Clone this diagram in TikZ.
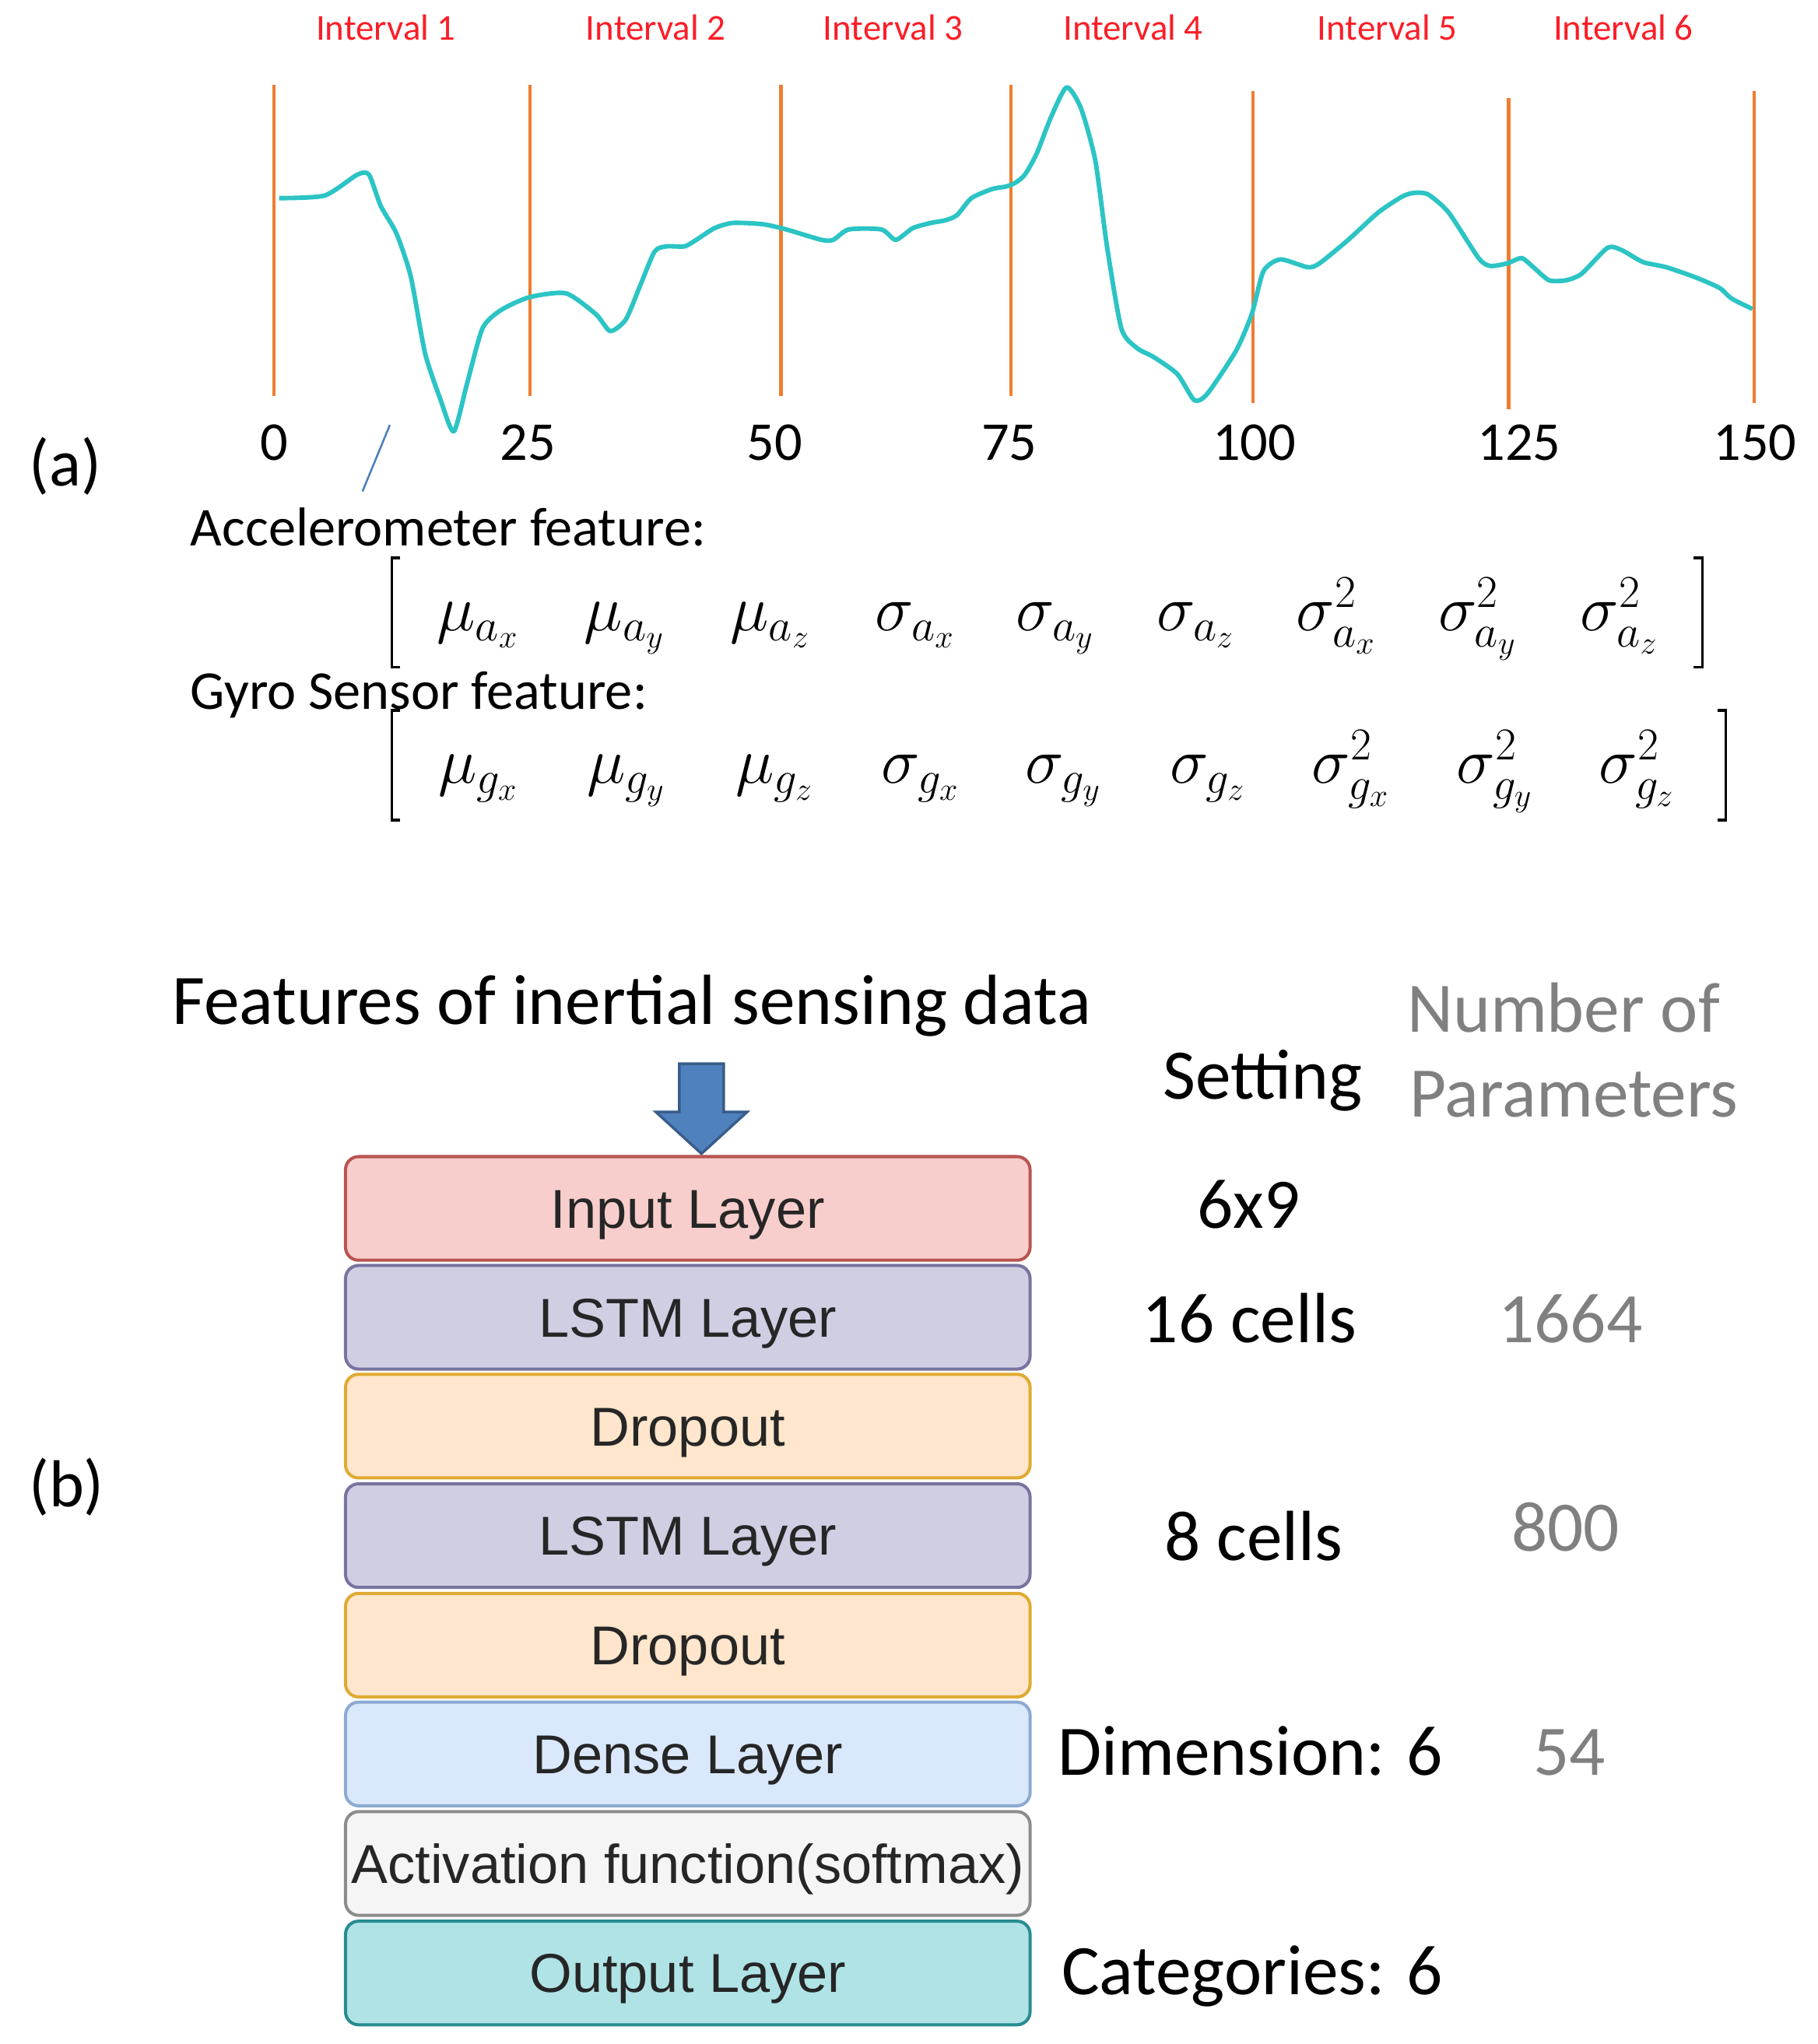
\documentclass[tikz,border=0pt]{standalone}
\usepackage{fix-cm}
\usepackage{fontspec}
\setmainfont{Carlito}
\newfontfamily\arialfont{Liberation Sans}
\newcommand{\intsize}{\fontsize{28}{32}\selectfont}
\newcommand{\labsize}{\fontsize{42}{48}\selectfont}
\newcommand{\partsize}{\fontsize{51}{56}\selectfont}
\newcommand{\bigsize}{\fontsize{54.5}{60}\selectfont}
\newcommand{\entrysize}{\fontsize{50}{56}\selectfont}
\newcommand{\layersize}{\arialfont\fontsize{42}{48}\selectfont}
\definecolor{intred}{RGB}{250, 30, 40}
\definecolor{boundorange}{RGB}{237, 125, 49}
\definecolor{signalcyan}{RGB}{44, 196, 196}
\definecolor{slashblue}{RGB}{74, 126, 187}
\definecolor{paramgray}{RGB}{128, 128, 128}
\definecolor{arrowfill}{RGB}{79, 129, 189}
\definecolor{arrowdraw}{RGB}{56, 93, 138}
\begin{document}
\begin{tikzpicture}[x = 1pt, y = -1pt,
    intlabel/.style = {anchor = base, inner sep = 0, text = intred, font = \intsize},
    ticklabel/.style = {anchor = base, inner sep = 0, font = \labsize},
    txt/.style = {anchor = base west, inner sep = 0, font = \labsize},
    bigtxt/.style = {anchor = base west, inner sep = 0, font = \bigsize},
    paramtxt/.style = {anchor = base west, inner sep = 0, font = \bigsize, text = paramgray},
    mathentry/.style = {anchor = base west, inner sep = 0, font = \entrysize},
    bound/.style = {boundorange, line width = 2.5pt},
    bracket/.style = {line width = 2pt},
    layerbox/.style = {rounded corners = 10pt, line width = 2.4pt, minimum width = 525pt,
        minimum height = 79.5pt, inner sep = 0, text height = 30pt, text depth = 0pt,
        font = \layersize, text = black!85}]
    \useasboundingbox (0, 0) rectangle (1394, 1568);
    \node [intlabel] (int1) at (296, 31) {Interval 1};
    \node [intlabel] (int2) at (503, 31) {Interval 2};
    \node [intlabel] (int3) at (685, 31) {Interval 3};
    \node [intlabel] (int4) at (869, 31) {Interval 4};
    \node [intlabel] (int5) at (1064, 31) {Interval 5};
    \node [intlabel] (int6) at (1245, 31) {Interval 6};
    \draw [bound] (210, 65) -- (210, 304);
    \draw [bound] (406.5, 65) -- (406.5, 304);
    \draw [bound] (599, 65) -- (599, 304);
    \draw [bound] (775.5, 65) -- (775.5, 304);
    \draw [bound] (961, 70) -- (961, 309);
    \draw [bound] (1157, 75) -- (1157, 314);
    \draw [bound] (1345.5, 70) -- (1345.5, 309);
    \draw [signalcyan, line width = 3.5pt, line join = round] plot [smooth, tension = 0.4] coordinates {
        (214, 152) (249, 150) (274, 134) (283, 134) (292, 158) (304, 179) (315, 212)
        (326, 271) (338, 307) (348, 331) (358, 295) (370, 252) (384, 238) (406, 228)
        (434, 225) (457, 241) (468, 254) (480, 245) (491, 219) (502, 193) (511, 189)
        (525, 189) (534, 184) (548, 175) (562, 171) (585, 172) (603, 176) (630, 184)
        (639, 184) (651, 176) (676, 176) (687, 184) (700, 175) (714, 171) (725, 169)
        (734, 165) (745, 152) (761, 145) (772, 143) (779, 140) (786, 134) (795, 118)
        (806, 90) (818, 67) (829, 83) (840, 123) (849, 189) (860, 252) (872, 267)
        (885, 274) (903, 287) (916, 307) (926, 302) (948, 269) (960, 241) (969, 208)
        (982, 199) (1003, 205) (1012, 202) (1034, 184) (1057, 163) (1075, 151)
        (1084, 148) (1095, 149) (1111, 163) (1134, 198) (1143, 204) (1156, 202)
        (1167, 198) (1176, 205) (1188, 215) (1201, 215) (1213, 210) (1233, 190)
        (1244, 192) (1260, 201) (1278, 205) (1301, 213) (1319, 221) (1328, 229) (1344, 237)};
    \node [ticklabel] (t0) at (210, 353) {0};
    \node [ticklabel] (t25) at (405, 353) {25};
    \node [ticklabel] (t50) at (594, 353) {50};
    \node [ticklabel] (t75) at (774, 353) {75};
    \node [ticklabel] (t100) at (962, 353) {100};
    \node [ticklabel] (t125) at (1165, 353) {125};
    \node [ticklabel] (t150) at (1346, 353) {150};
    \draw [slashblue, line width = 1.5pt] (299, 326) -- (278, 377);
    \node [anchor = base west, inner sep = 0, font = \partsize] (lbla) at (22, 373) {(a)};
    \node [txt] (accfeat) at (146, 419) {Accelerometer feature:};
    \node [txt] (gyrofeat) at (146, 544) {Gyro Sensor feature:};
    \draw [bracket] (307, 428) -- (300.5, 428) -- (300.5, 512) -- (307, 512);
    \draw [bracket] (1299, 428) -- (1305.5, 428) -- (1305.5, 512) -- (1299, 512);
    \draw [bracket] (307, 545) -- (300.5, 545) -- (300.5, 629) -- (307, 629);
    \draw [bracket] (1317, 545) -- (1323.5, 545) -- (1323.5, 629) -- (1317, 629);
    \node [mathentry] (a1) at (335, 484) {$\mu_{a_x}$};
    \node [mathentry] (a2) at (448, 484) {$\mu_{a_y}$};
    \node [mathentry] (a3) at (560, 484) {$\mu_{a_z}$};
    \node [mathentry] (a4) at (671, 484) {$\sigma_{a_x}$};
    \node [mathentry] (a5) at (779, 484) {$\sigma_{a_y}$};
    \node [mathentry] (a6) at (887, 484) {$\sigma_{a_z}$};
    \node [mathentry] (a7) at (994, 484) {$\sigma^2_{a_x}$};
    \node [mathentry] (a8) at (1103, 484) {$\sigma^2_{a_y}$};
    \node [mathentry] (a9) at (1212, 484) {$\sigma^2_{a_z}$};
    \node [mathentry] (g1) at (336, 601) {$\mu_{g_x}$};
    \node [mathentry] (g2) at (450, 601) {$\mu_{g_y}$};
    \node [mathentry] (g3) at (564, 601) {$\mu_{g_z}$};
    \node [mathentry] (g4) at (676, 601) {$\sigma_{g_x}$};
    \node [mathentry] (g5) at (786, 601) {$\sigma_{g_y}$};
    \node [mathentry] (g6) at (897, 601) {$\sigma_{g_z}$};
    \node [mathentry] (g7) at (1006, 601) {$\sigma^2_{g_x}$};
    \node [mathentry] (g8) at (1117, 601) {$\sigma^2_{g_y}$};
    \node [mathentry] (g9) at (1226, 601) {$\sigma^2_{g_z}$};
    \node [bigtxt] (title) at (132, 786) {Features of inertial sensing data};
    \node [bigtxt] (setting) at (892, 843) {Setting};
    \node [paramtxt] (numof) at (1079, 792) {Number of};
    \node [paramtxt] (params) at (1081, 857) {Parameters};
    \draw [fill = arrowfill, draw = arrowdraw, line width = 2pt, line join = miter]
        (521, 816) -- (555, 816) -- (555, 853) -- (573, 853) -- (538, 885)
        -- (503, 853) -- (521, 853) -- cycle;
    \node [layerbox, fill = {rgb,255:red,248;green,206;blue,204}, draw = {rgb,255:red,184;green,84;blue,80}] (input) at (527.5, 927) {Input Layer};
    \node [layerbox, fill = {rgb,255:red,208;green,206;blue,226}, draw = {rgb,255:red,120;green,115;blue,160}] (lstma) at (527.5, 1010.5) {LSTM Layer};
    \node [layerbox, fill = {rgb,255:red,255;green,230;blue,204}, draw = {rgb,255:red,224;green,170;blue,50}] (dropa) at (527.5, 1094) {Dropout};
    \node [layerbox, fill = {rgb,255:red,208;green,206;blue,226}, draw = {rgb,255:red,120;green,115;blue,160}] (lstmb) at (527.5, 1178) {LSTM Layer};
    \node [layerbox, fill = {rgb,255:red,255;green,230;blue,204}, draw = {rgb,255:red,224;green,170;blue,50}] (dropb) at (527.5, 1262) {Dropout};
    \node [layerbox, fill = {rgb,255:red,218;green,232;blue,252}, draw = {rgb,255:red,140;green,170;blue,210}] (dense) at (527.5, 1345.5) {Dense Layer};
    \node [layerbox, fill = {rgb,255:red,245;green,245;blue,245}, draw = {rgb,255:red,140;green,140;blue,140}] (act) at (527.5, 1429.5) {Activation function(softmax)};
    \node [layerbox, fill = {rgb,255:red,176;green,227;blue,230}, draw = {rgb,255:red,40;green,140;blue,145}] (output) at (527.5, 1513.5) {Output Layer};
    \node [bigtxt] (setin) at (918, 942) {6x9};
    \node [bigtxt] (setlstma) at (876, 1030) {16 cells};
    \node [paramtxt] (parlstma) at (1149, 1030) {1664};
    \node [anchor = base west, inner sep = 0, font = \partsize] (lblb) at (22, 1156) {(b)};
    \node [bigtxt] (setlstmb) at (893, 1197) {8 cells};
    \node [paramtxt] (parlstmb) at (1159, 1190) {800};
    \node [bigtxt] (setdense) at (811, 1362) {Dimension: 6};
    \node [paramtxt] (pardense) at (1176, 1362) {54};
    \node [bigtxt] (setout) at (814, 1530) {Categories: 6};
\end{tikzpicture}
\end{document}
